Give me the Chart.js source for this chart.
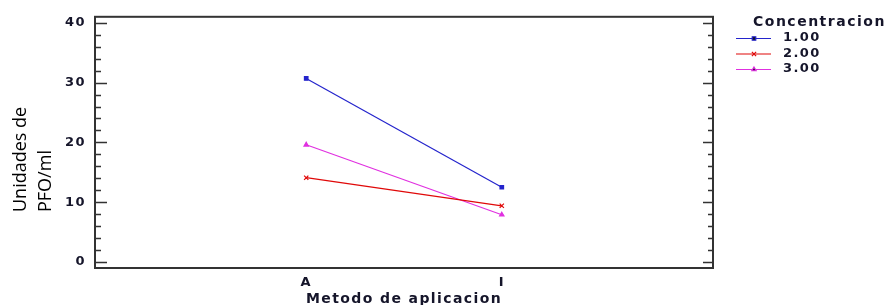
<!DOCTYPE html>
<html>
<head>
<meta charset="utf-8">
<script src="https://cdn.jsdelivr.net/npm/chart.js@4.4.1/dist/chart.umd.min.js"></script>
<style>
  html, body { margin: 0; padding: 0; background: #fff; }
  .chart-wrap { width: 894px; height: 305px; position: relative; }
</style>
</head>
<body>
<div class="chart-wrap"><canvas id="interactionChart"></canvas></div>
<script>
        // Metodo de aplicacion (x categories)
        const categories = ['A', 'I'];
        // Concentracion levels (legend)
        const concentrations = ['1.00', '2.00', '3.00'];
        // Unidades de PFO/ml per level
        const conc100 = [30.7, 12.5];
        const conc200 = [14.1, 9.4];
        const conc300 = [19.6, 7.9];
        const yMajorTicks = [0, 10, 20, 30, 40];
        const yTitleLines = ['Unidades de', 'PFO/ml'];

        const textColor = '#15152a';
        const boldFont = 'DejaVu Sans';

        function toPoints(values) {
            return values.map((v, i) => ({ x: i + 1, y: v }));
        }

        // Frame + inward tick marks on both y sides, plus the y title and legend
        const framePlugin = {
            id: 'frame',
            beforeDraw(chart) {
                chart.ctx.letterSpacing = '1.4px';
            },
            afterDraw(chart) {
                const ctx = chart.ctx;
                const area = chart.chartArea;
                const y = chart.scales.y;

                ctx.save();
                ctx.strokeStyle = '#333';
                ctx.lineWidth = 2;
                ctx.strokeRect(area.left, area.top, area.right - area.left, area.bottom - area.top);

                ctx.lineWidth = 1.5;
                ctx.beginPath();
                for (let v = 0; v <= 40; v += 2) {
                    const py = Math.round(y.getPixelForValue(v)) + 0.5;
                    const major = v % 10 === 0;
                    ctx.moveTo(area.left, py);
                    ctx.lineTo(area.left + (major ? 12 : 6), py);
                    ctx.moveTo(area.right, py);
                    ctx.lineTo(area.right - (major ? 10 : 5), py);
                }
                ctx.stroke();

                // y title, two lines, rotated
                ctx.letterSpacing = '0px';
                ctx.fillStyle = '#000';
                ctx.font = '18px "Open Sans"';
                ctx.textAlign = 'left';
                ctx.textBaseline = 'middle';
                yTitleLines.forEach((line, i) => {
                    ctx.save();
                    ctx.translate(21 + i * 25, 212);
                    ctx.rotate(-Math.PI / 2);
                    ctx.fillText(line, 0, 0);
                    ctx.restore();
                });

                // legend
                ctx.letterSpacing = '1.5px';
                ctx.fillStyle = textColor;
                ctx.font = `bold 14px "${boldFont}"`;
                ctx.fillText('Concentracion', 753, 22);
                ctx.font = `bold 13px "${boldFont}"`;
                ctx.letterSpacing = '1.4px';
                chart.data.datasets.forEach((ds, i) => {
                    const ly = 38 + i * 15.5;
                    ctx.strokeStyle = ds.borderColor;
                    ctx.lineWidth = 1.2;
                    ctx.beginPath();
                    ctx.moveTo(736, ly + 0.5);
                    ctx.lineTo(771, ly + 0.5);
                    ctx.stroke();
                    Chart.helpers.drawPoint(ctx, {
                        pointStyle: ds.pointStyle,
                        radius: ds.pointRadius,
                        borderWidth: 1.2
                    }, 754, ly + 0.5);
                    ctx.fillStyle = textColor;
                    ctx.fillText(ds.label, 783, ly);
                });
                ctx.restore();
            }
        };

        function makeDataset(label, values, color, style, radius) {
            return {
                label: label,
                data: toPoints(values),
                borderColor: color,
                backgroundColor: color,
                borderWidth: 1.2,
                pointStyle: style,
                pointRadius: radius,
                pointBorderWidth: 1.2,
                pointHoverRadius: radius,
                tension: 0
            };
        }

        const ctx = document.getElementById('interactionChart').getContext('2d');
        const interactionChart = new Chart(ctx, {
            type: 'line',
            data: {
                datasets: [
                    makeDataset(concentrations[0], conc100, '#2424cc', 'rect', 2.5),
                    makeDataset(concentrations[1], conc200, '#e00808', 'crossRot', 3),
                    makeDataset(concentrations[2], conc300, '#e030e0', 'triangle', 2.5)
                ]
            },
            options: {
                responsive: true,
                maintainAspectRatio: false,
                animation: false,
                layout: {
                    padding: { left: 0, right: 181, top: 16, bottom: 0 }
                },
                plugins: {
                    legend: { display: false },
                    tooltip: { enabled: false }
                },
                scales: {
                    x: {
                        type: 'linear',
                        min: -0.08,
                        max: 3.08,
                        afterBuildTicks: scale => {
                            scale.ticks = categories.map((c, i) => ({ value: i + 1 }));
                        },
                        afterFit: scale => { scale.height = 37; },
                        grid: { display: false, drawTicks: false },
                        border: { display: false },
                        ticks: {
                            callback: v => categories[v - 1],
                            color: textColor,
                            font: { family: boldFont, size: 13, weight: 'bold' },
                            padding: 7,
                            maxRotation: 0
                        },
                        title: {
                            display: true,
                            text: 'Metodo de aplicacion',
                            color: textColor,
                            font: { family: boldFont, size: 14, weight: 'bold' },
                            padding: { top: 0, bottom: -3 }
                        }
                    },
                    y: {
                        min: -1,
                        max: 41,
                        afterBuildTicks: scale => {
                            scale.ticks = yMajorTicks.map(v => ({ value: v }));
                        },
                        afterFit: scale => { scale.width = 95; },
                        grid: { display: false, drawTicks: false },
                        border: { display: false },
                        ticks: {
                            color: textColor,
                            font: { family: boldFont, size: 13, weight: 'bold' },
                            padding: 9
                        }
                    }
                }
            },
            plugins: [framePlugin]
        });
</script>
</body>
</html>
